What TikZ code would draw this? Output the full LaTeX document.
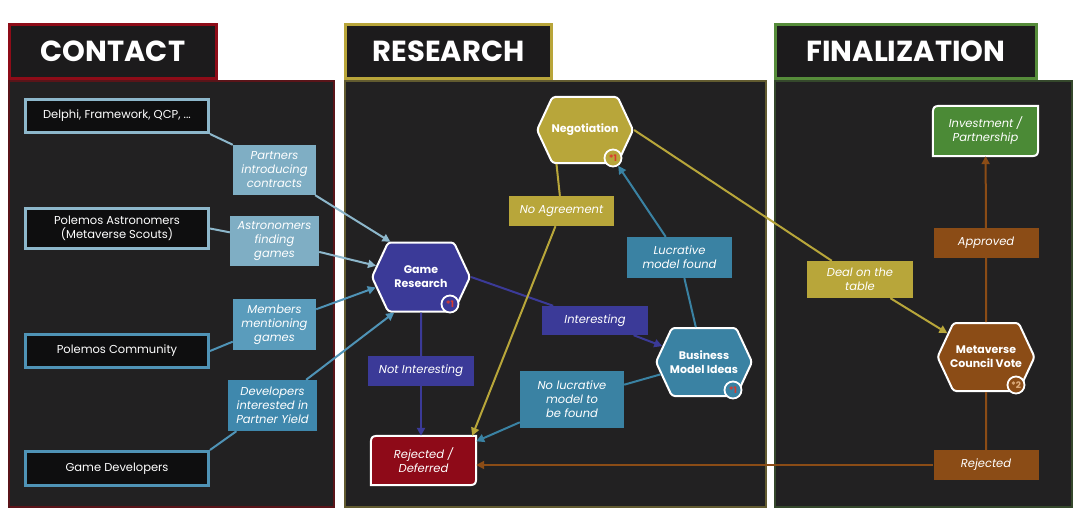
\documentclass[tikz,border=0pt]{standalone}
\usepackage{fontspec}
\setmainfont{Poppins}
\usetikzlibrary{shapes.symbols,arrows.meta,calc}
\definecolor{panelbg}{HTML}{222122}
\definecolor{titlebg}{HTML}{1C1B1C}
\definecolor{srcbg}{HTML}{0E0E0F}
\definecolor{cred}{HTML}{8E0C18}
\definecolor{credpanel}{HTML}{5A1419}
\definecolor{cgold}{HTML}{B8A53A}
\definecolor{cgoldpanel}{HTML}{625B30}
\definecolor{cgreen}{HTML}{568C3A}
\definecolor{cgreenpanel}{HTML}{35482C}
\definecolor{lblue}{HTML}{8DB7CB}
\definecolor{lbluefill}{HTML}{7FAEC4}
\definecolor{mblue}{HTML}{4F93B6}
\definecolor{mbluefill}{HTML}{5A9CBC}
\definecolor{dbluefill}{HTML}{3F88AD}
\definecolor{indigo}{HTML}{3B3A98}
\definecolor{teal}{HTML}{3A82A3}
\definecolor{dred}{HTML}{8E0A18}
\definecolor{ggreen}{HTML}{4B8A36}
\definecolor{brown}{HTML}{8B4C16}
\definecolor{gold}{HTML}{B8A63A}
\definecolor{badgered}{HTML}{D93A2E}
\definecolor{badgetan}{HTML}{E0B080}
\pgfdeclarelayer{back}
\pgfdeclarelayer{mid}
\pgfsetlayers{back,mid,main}
\newcommand{\leafpath}[2]{%
  \filldraw[draw=white, line width=2pt, fill=#2]
    (#1.south west) -- ([yshift=-12pt]#1.north west)
    .. controls (#1.north west) .. ([xshift=12pt]#1.north west)
    -- (#1.north east) -- ([yshift=12pt]#1.south east)
    .. controls (#1.south east) .. ([xshift=-12pt]#1.south east) -- cycle;}
\begin{document}
\begin{tikzpicture}[x=1pt,y=-1pt,
  panel/.style={draw, line width=2pt, fill=panelbg, inner sep=0pt},
  titlebox/.style={draw, line width=3pt, fill=titlebg, text=white,
    font=\fontsize{29}{32}\selectfont\bfseries, inner sep=0pt},
  srcbox/.style={draw, line width=3pt, fill=srcbg, text=white,
    font=\fontsize{11.5}{14}\selectfont, align=center, minimum width=183pt, inner sep=0pt},
  lbl/.style={text=white, font=\fontsize{11.5}{14}\selectfont\itshape, align=center, inner sep=0pt},
  hexnode/.style={signal, signal to=west and east, signal pointer angle=130,
    draw=white, line width=2pt, text=white, rounded corners=3pt,
    font=\fontsize{11}{14}\selectfont\bfseries, align=center, inner ysep=0pt, inner xsep=-9pt},
  badge/.style={circle, draw=white, line width=1.8pt, minimum size=17pt, inner sep=0pt,
    font=\fontsize{9}{9}\selectfont\bfseries},
  leaf/.style={rectangle, text=white, font=\fontsize{11.5}{14}\selectfont\itshape,
    align=center, inner sep=0pt},
  conn/.style={line width=2pt},
  arr/.style={conn, -{Triangle[length=8pt,width=8pt]}}]
\useasboundingbox (0,0) rectangle (1078,524);

\begin{pgfonlayer}{back}
\fill[white] (0,0) rectangle (1078,524);
\node[panel, draw=credpanel, minimum width=325pt, minimum height=426pt] (pcontact) at (171.5,294) {};
\node[panel, draw=cgoldpanel, minimum width=421pt, minimum height=426pt] (presearch) at (555.5,294) {};
\node[panel, draw=cgreenpanel, minimum width=297pt, minimum height=426pt] (pfinal) at (923.5,294) {};
\node[titlebox, draw=cred, minimum width=207pt, minimum height=54pt] (tcontact) at (113,51.5) {CONTACT};
\node[titlebox, draw=cgold, minimum width=206pt, minimum height=54pt] (tresearch) at (448.5,51.5) {RESEARCH};
\node[titlebox, draw=cgreen, minimum width=261pt, minimum height=54pt] (tfinal) at (906,51.5) {FINALIZATION};
\end{pgfonlayer}

% contact sources
\node[srcbox, draw=lblue, minimum height=33pt] (delphi) at (117,116) {Delphi, Framework, QCP, ...};
\node[srcbox, draw=lblue, minimum height=40pt] (astro) at (117,228.5) {Polemos Astronomers\\(Metaverse Scouts)};
\node[srcbox, draw=mblue, minimum height=33pt] (community) at (117,351) {Polemos Community};
\node[srcbox, draw=mblue, minimum height=34pt] (gamedev) at (117,468.5) {Game Developers};

% contact labels
\node[lbl, fill=lbluefill, minimum width=83pt, minimum height=50pt] (lpartners) at (274.5,170) {Partners\\introducing\\contracts};
\node[lbl, fill=lbluefill, minimum width=89pt, minimum height=50pt] (lastro) at (274.5,241) {Astronomers\\finding\\games};
\node[lbl, fill=mbluefill, minimum width=83pt, minimum height=51pt] (lmembers) at (274.5,324.5) {Members\\mentioning\\games};
\node[lbl, fill=dbluefill, minimum width=89pt, minimum height=51pt] (ldev) at (272.5,405.5) {Developers\\interested in\\Partner Yield};

% hexagons
\node[hexnode, fill=indigo, minimum width=98pt, minimum height=69pt] (gr) at (421,277) {Game\\Research};
\node[hexnode, fill=gold, minimum width=96pt, minimum height=66pt] (neg) at (585,130) {Negotiation};
\node[hexnode, fill=teal, minimum width=96pt, minimum height=68pt] (bmi) at (704,362) {Business\\Model Ideas};
\node[hexnode, fill=brown, minimum width=97pt, minimum height=68pt] (mcv) at (986,357) {Metaverse\\Council Vote};

\node[badge, fill=indigo, text=badgered] (grb) at (450,304) {*1};
\node[badge, fill=gold, text=badgered] (negb) at (613,158) {*1};
\node[badge, fill=teal, text=badgered] (bmib) at (733,390) {*1};
\node[badge, fill=brown, text=badgetan] (mcvb) at (1016,385) {*2};

% terminals
\node[leaf, minimum width=105pt, minimum height=49pt] (rd) at (423.5,460.5) {Rejected /\\Deferred};
\node[leaf, minimum width=105pt, minimum height=50pt] (inv) at (985.5,131) {Investment /\\Partnership};
\begin{pgfonlayer}{mid}
\leafpath{rd}{dred}
\leafpath{inv}{ggreen}
\end{pgfonlayer}

% research / final labels
\node[lbl, fill=gold, minimum width=105pt, minimum height=30pt] (lnoagree) at (561.5,211) {No Agreement};
\node[lbl, fill=teal, minimum width=105pt, minimum height=41pt] (llucr) at (679.5,257.5) {Lucrative\\model found};
\node[lbl, fill=indigo, minimum width=106pt, minimum height=29pt] (linter) at (595,320.5) {Interesting};
\node[lbl, fill=indigo, minimum width=106pt, minimum height=30pt] (lnotinter) at (421,371) {Not Interesting};
\node[lbl, fill=teal, minimum width=104pt, minimum height=57pt] (lnolucr) at (572,399.5) {No lucrative\\model to\\be found};
\node[lbl, fill=gold, minimum width=106pt, minimum height=37pt] (ldeal) at (860,279.5) {Deal on the\\table};
\node[lbl, fill=brown, minimum width=105pt, minimum height=30pt] (lapproved) at (986,243) {Approved};
\node[lbl, fill=brown, minimum width=105pt, minimum height=30pt] (lrejected) at (986,465) {Rejected};

% contact connectors
\draw[conn, lblue] (delphi.south east) -- (lpartners.north west);
\draw[arr, lblue] (lpartners) -- (gr.131);
\draw[conn, lblue] (astro.east) -- (lastro);
\draw[arr, lblue] (lastro) -- (gr.166);
\draw[conn, mblue] (community.east) -- (lmembers);
\draw[arr, mblue] (lmembers) -- (gr.193);
\draw[conn, mblue] (gamedev.north east) -- (ldev);
\draw[arr, mblue] (ldev) -- (gr.233);

% research connectors
\draw[conn, indigo] (gr) -- (lnotinter);
\draw[arr, indigo] (lnotinter) -- (lnotinter |- rd.north);
\draw[conn, indigo] (gr.east) -- (linter);
\draw[arr, indigo] (linter) -- (bmi);
\draw[conn, teal] (bmi) -- (llucr);
\draw[arr, teal] (llucr) -- (negb);
\draw[conn, teal] (bmi) -- (lnolucr);
\draw[arr, teal] (lnolucr) -- (rd.20);
\draw[conn, gold] (neg.230) -- (lnoagree);
\draw[arr, gold] (lnoagree) -- ([xshift=-4pt]rd.north east);
\draw[conn, gold] (neg.east) -- (ldeal);
\draw[arr, gold] (ldeal) -- (mcv);

% final connectors
\draw[conn, brown] (mcv) -- (lapproved);
\draw[arr, brown] (lapproved) -- (inv);
\draw[conn, brown] (mcv) -- (lrejected);
\draw[arr, brown] (lrejected) -- (lrejected -| rd.east);
\end{tikzpicture}
\end{document}
